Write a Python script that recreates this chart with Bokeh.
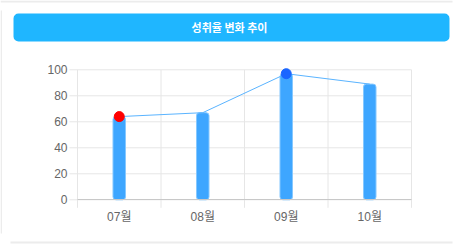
from bokeh.plotting import figure
from bokeh.models import Range1d, FixedTicker, BoxAnnotation, Label
from bokeh.embed import file_html
from bokeh.resources import INLINE

title_text = "성취율 변화 추이"
months = ["07월", "08월", "09월", "10월"]
rates = [64, 67, 97, 89]
y_ticks = [0, 20, 40, 60, 80, 100]

xs = list(range(len(months)))
bounds = [i - 0.5 for i in range(len(months) + 1)]

FONT = "Liberation Sans, Noto Sans CJK KR, sans-serif"

# ---- page geometry (pixels) ----
W, H = 461, 244
PLOT_L, PLOT_R = 77, 411          # left / right edge of the category area
PLOT_TOP, ZERO_Y = 69.3, 199.3    # pixel rows of y=100 and y=0
TICK_LEN = 8                      # grid lines run past the axes by this much

x_lo, x_hi = bounds[0], bounds[-1]
px_per_x = (PLOT_R - PLOT_L) / (x_hi - x_lo)
px_per_y = (ZERO_Y - PLOT_TOP) / (y_ticks[-1] - y_ticks[0])
x_start = x_lo - PLOT_L / px_per_x
x_end = x_start + W / px_per_x
y_end = y_ticks[-1] + PLOT_TOP / px_per_y
y_start = y_end - H / px_per_y
y_below = y_ticks[0] - TICK_LEN / px_per_y

p = figure(width=W, height=H, output_backend="svg", toolbar_location=None,
           x_range=Range1d(x_start, x_end), y_range=Range1d(y_start, y_end),
           min_border=0, title=None)
p.outline_line_color = None
p.xgrid.visible = False
p.ygrid.visible = False

# grid lines (limited to the chart area, with tick stubs)
p.segment(x0=bounds, x1=bounds, y0=[y_below] * len(bounds), y1=[y_ticks[-1]] * len(bounds),
          line_color="#e6e6e6", line_width=1)
p.segment(x0=[x_lo - TICK_LEN / px_per_x] * len(y_ticks), x1=[x_hi] * len(y_ticks),
          y0=y_ticks, y1=y_ticks, line_color="#e6e6e6", line_width=1)

# x axis fixed at y=0
p.xaxis.fixed_location = 0
p.xaxis.bounds = (x_lo, x_hi)
p.xaxis.ticker = FixedTicker(ticks=xs)
p.xaxis.major_label_overrides = {i: m for i, m in enumerate(months)}
p.xaxis.axis_line_color = "#c8c8c8"
p.xaxis.major_tick_line_color = None
p.xaxis.major_tick_out = 0
p.xaxis.major_tick_in = 0
p.xaxis.minor_tick_line_color = None
p.xaxis.major_label_standoff = 10
p.xaxis.major_label_text_color = "#666666"
p.xaxis.major_label_text_font_size = "12px"
p.xaxis.major_label_text_font = FONT

# y axis fixed at the left edge of the category area
p.yaxis.fixed_location = x_lo
p.yaxis.bounds = (y_ticks[0], y_ticks[-1])
p.yaxis.ticker = FixedTicker(ticks=y_ticks)
p.yaxis.axis_line_color = None
p.yaxis.major_tick_line_color = None
p.yaxis.major_tick_out = TICK_LEN
p.yaxis.major_tick_in = 0
p.yaxis.minor_tick_line_color = None
p.yaxis.major_label_standoff = 2
p.yaxis.major_label_text_color = "#666666"
p.yaxis.major_label_text_font_size = "12px"
p.yaxis.major_label_text_font = FONT

# bars, line, highlight markers
p.vbar(x=xs, top=rates, bottom=0, width=0.15, fill_color="#3ea6ff",
       line_color="#86c8ff", line_width=1, border_radius=3)
p.line(xs, rates, line_color="#5ab4ff", line_width=1)

imin = rates.index(min(rates))
imax = rates.index(max(rates))
p.scatter([xs[imin]], [rates[imin]], size=10, fill_color="#ff0000", line_color="#ff0000")
p.scatter([xs[imax]], [rates[imax]], size=10, fill_color="#1a66ff", line_color="#1a66ff")


def screen_box(l, r, t, b, color, radius=0):
    # t/b given as pixel rows from the top of the page
    return BoxAnnotation(left=l, right=r, top=H - t, bottom=H - b,
                         left_units="screen", right_units="screen",
                         top_units="screen", bottom_units="screen",
                         fill_color=color, fill_alpha=1, line_color=None,
                         border_radius=radius, level="underlay")


# card edges
p.add_layout(screen_box(0, 452, 0, 2, "#ececec"))
p.add_layout(screen_box(0, 1.5, 10, 233, "#ececec"))
p.add_layout(screen_box(10, 452, 241, 243, "#ececec"))

# header bar
p.add_layout(screen_box(13, 449, 13, 41, "#1fb6ff", radius=5))
p.add_layout(Label(x=229, y=H - 26, x_units="screen", y_units="screen", text=title_text,
                   text_align="center", text_baseline="middle", text_color="white",
                   text_font_style="bold", text_font_size="11px",
                   text_font="Noto Sans CJK KR"))

open("out.html", "w").write(file_html(p, INLINE))
